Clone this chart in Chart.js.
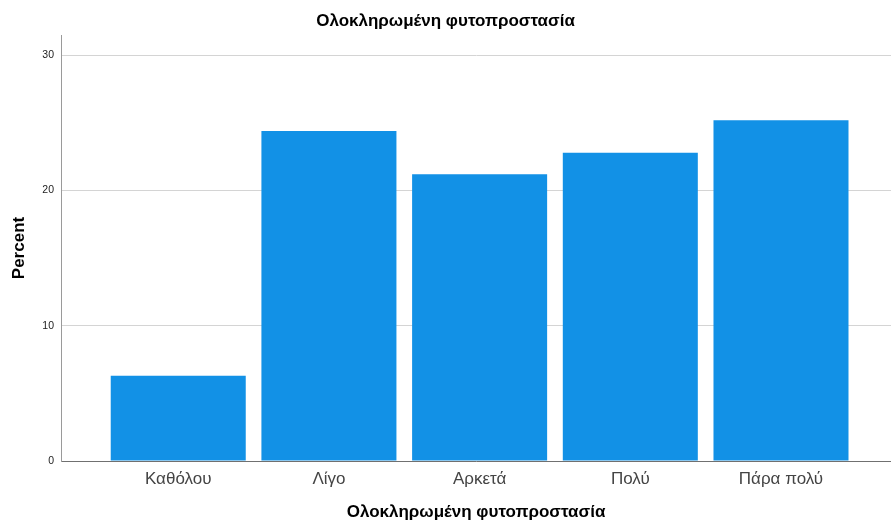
<!DOCTYPE html>
<html>
<head>
<meta charset="utf-8">
<script src="https://cdn.jsdelivr.net/npm/chart.js@4.4.1/dist/chart.umd.min.js"></script>
<style>
  html, body { margin: 0; padding: 0; background: #ffffff; }
  #wrap { width: 891px; height: 521px; position: relative; }
</style>
</head>
<body>
<div id="wrap"><canvas id="c"></canvas></div>
<script>
const categories = ["Καθόλου", "Λίγο", "Αρκετά", "Πολύ", "Πάρα πολύ"];
const percentValues = [6.3, 24.4, 21.2, 22.8, 25.2];
const yTickValues = [0, 10, 20, 30];
const chartTitle = "Ολοκληρωμένη φυτοπροστασία";
const xAxisTitle = "Ολοκληρωμένη φυτοπροστασία";
const yAxisTitle = "Percent";

const FONT = "'Liberation Sans', Arial, sans-serif";

new Chart(document.getElementById('c'), {
  type: 'bar',
  data: {
    datasets: [{
      data: categories.map((c, i) => ({ x: i, y: percentValues[i] })),
      backgroundColor: '#1291e6',
      borderWidth: 0,
      barPercentage: 0.896,
      categoryPercentage: 1.0
    }]
  },
  options: {
    responsive: true,
    maintainAspectRatio: false,
    animation: false,
    events: [],
    layout: { padding: { left: 0, right: 0, top: 0, bottom: 0 } },
    plugins: {
      legend: { display: false },
      tooltip: { enabled: false },
      title: {
        display: true,
        text: chartTitle,
        color: '#000000',
        font: { family: FONT, size: 17, weight: 'bold' },
        padding: { top: 11, bottom: 3.6 }
      }
    },
    scales: {
      x: {
        type: 'linear',
        offset: false,
        min: -0.778,
        max: 4.73,
        afterBuildTicks: (s) => { s.ticks = categories.map((c, i) => ({ value: i })); },
        afterFit: (s) => { s.height = 60; },
        grid: { display: false, drawTicks: false, offset: false },
        border: { display: true, color: '#707070', width: 1 },
        ticks: {
          autoSkip: false,
          maxRotation: 0,
          padding: 8,
          color: '#444444',
          font: { family: FONT, size: 17 },
          callback: (v) => categories[v] !== undefined ? categories[v] : ''
        },
        title: {
          display: true,
          text: xAxisTitle,
          color: '#000000',
          font: { family: FONT, size: 17, weight: 'bold' },
          padding: { top: 0, bottom: -2 }
        }
      },
      y: {
        min: 0,
        max: 31.5,
        afterBuildTicks: (s) => { s.ticks = yTickValues.map(v => ({ value: v })); },
        afterFit: (s) => { s.width = 61; },
        grid: { color: '#d4d4d4', lineWidth: 1, drawTicks: false },
        border: { display: true, color: '#9a9a9a', width: 1 },
        ticks: {
          padding: 7,
          color: '#222222',
          font: { family: FONT, size: 10.5 }
        },
        title: {
          display: true,
          text: yAxisTitle,
          color: '#000000',
          font: { family: FONT, size: 17, weight: 'bold' },
          padding: { top: 9, bottom: 0 }
        }
      }
    }
  }
});
</script>
</body>
</html>
